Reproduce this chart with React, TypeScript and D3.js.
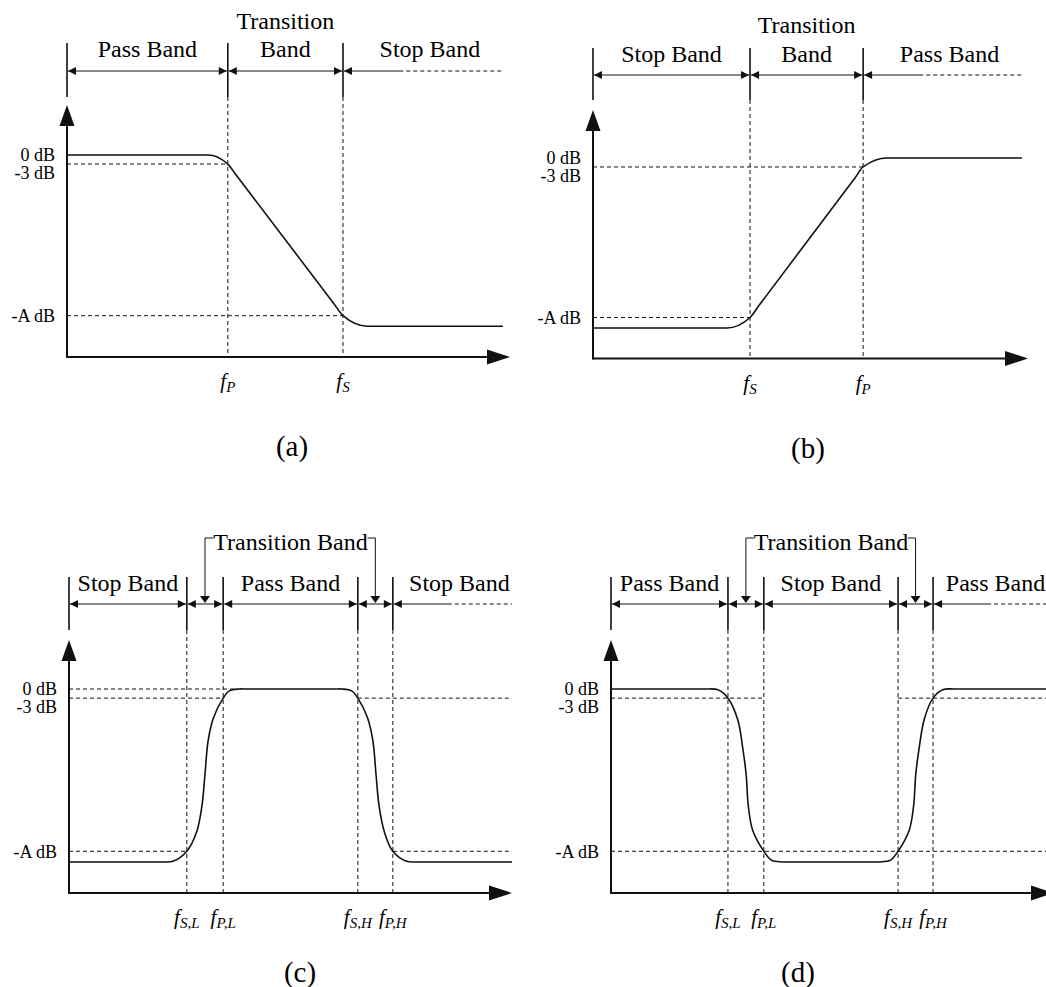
import * as d3 from "d3";
import React, { useRef, useEffect } from "react";

// dB levels shown on every panel
const levelLabels = ["0 dB", "-3 dB", "-A dB"];
const levelValues = [0, -3, -53.3];
const axisBottomDb = -67;

// (a) low-pass
const lowpassEdges = [3.63, 6.23];
const lowpassTicks = [["f", "P"], ["f", "S"]];
const lowpassBands = ["Pass Band", "Band", "Stop Band"];
const lowpassResponse = [
  [0, 0], [3.18, 0], [3.63, -3], [3.81, -6.5], [6.03, -49.4], [6.23, -53.3], [6.78, -56.8], [9.84, -56.8],
];
const lowpassGuides = [[-3, 0, 3.63], [-53.3, 0, 6.23]];

// (b) high-pass
const highpassEdges = [3.61, 6.21];
const highpassTicks = [["f", "S"], ["f", "P"]];
const highpassBands = ["Stop Band", "Band", "Pass Band"];
const highpassResponse = [
  [0, -56.8], [3.08, -56.8], [3.61, -53.3], [3.81, -49.4], [6.03, -6.5], [6.21, -3], [6.76, 0], [9.86, 0],
];
const highpassGuides = [[-3, 0, 6.21], [-53.3, 0, 3.61]];

// (c) band-pass
const bandpassEdges = [2.66, 3.48, 6.52, 7.31];
const bandTicks = [["f", "S,L"], ["f", "P,L"], ["f", "S,H"], ["f", "P,H"]];
const bandpassBands = ["Stop Band", "", "Pass Band", "", "Stop Band"];
const bandpassResponse = [
  [0, -56.8], [1.95, -56.8], [2.1, -56.8], [2.35, -56.6], [2.66, -53.3], [2.88, -47], [3.0, -38.5],
  [3.07, -28], [3.14, -17], [3.26, -9.5], [3.48, -3], [3.62, -0.6], [3.85, 0], [4.0, 0], [6.0, 0],
  [6.15, 0], [6.38, -0.6], [6.52, -3], [6.74, -9.5], [6.86, -17], [6.93, -28], [7.0, -38.5], [7.12, -47],
  [7.31, -53.3], [7.62, -56.6], [7.87, -56.8], [8.02, -56.8], [10, -56.8],
];
const bandpassGuides = [[0, 0, 3.75], [-3, 0, 3.48], [-3, 6.52, 10], [-53.3, 0, 2.66], [-53.3, 7.31, 10]];

// (d) band-stop
const bandstopEdges = [2.64, 3.45, 6.48, 7.27];
const bandstopBands = ["Pass Band", "", "Stop Band", "", "Pass Band"];
const bandstopResponse = [
  [0, 0], [2.0, 0], [2.15, 0], [2.4, -0.2], [2.64, -3], [2.86, -10], [2.97, -19], [3.05, -28],
  [3.1, -38.5], [3.2, -46.5], [3.45, -53.3], [3.62, -56.2], [3.86, -56.8], [4.0, -56.8], [5.93, -56.8],
  [6.07, -56.8], [6.31, -56.2], [6.48, -53.3], [6.73, -46.5], [6.83, -38.5], [6.88, -28], [6.96, -19],
  [7.07, -10], [7.27, -3], [7.5, -0.2], [7.75, 0], [7.9, 0], [10, 0],
];
const bandstopGuides = [[-3, 0, 3.45], [-3, 6.48, 10], [-53.3, 0, 10]];

const captions = ["(a)", "(b)", "(c)", "(d)"];

const serif = "'Liberation Serif', 'Times New Roman', serif";
const ink = "#111";

const panels = [
  {
    ox: 67, oy: 357, w: 443, y0: 155, top: 105, bandY: 71, divTop: 43, divBottom: 97, labelY: 57,
    edges: lowpassEdges, ticks: lowpassTicks, bands: lowpassBands, response: lowpassResponse,
    guides: lowpassGuides, solidEnd: 7.5, dashEnd: 9.84, transition: "stack", transY: 29,
    caption: captions[0], capX: 292, capY: 456, lastShift: 7, curve: d3.curveMonotoneX,
  },
  {
    ox: 593, oy: 358.5, w: 435, y0: 158, top: 110, bandY: 75, divTop: 48, divBottom: 100, labelY: 62,
    edges: highpassEdges, ticks: highpassTicks, bands: highpassBands, response: highpassResponse,
    guides: highpassGuides, solidEnd: 7.5, dashEnd: 9.86, transition: "stack", transY: 33,
    caption: captions[1], capX: 808, capY: 458, lastShift: 7, curve: d3.curveMonotoneX,
  },
  {
    ox: 69, oy: 893, w: 443, y0: 689, top: 640, bandY: 604, divTop: 577, divBottom: 630, labelY: 591,
    edges: bandpassEdges, ticks: bandTicks, bands: bandpassBands, response: bandpassResponse,
    guides: bandpassGuides, solidEnd: 8.55, dashEnd: 10, transition: "bracket", transY: 550,
    caption: captions[2], capX: 300, capY: 982, lastShift: 7, curve: d3.curveCatmullRom.alpha(0.5),
  },
  {
    ox: 611, oy: 893, w: 443, y0: 689, top: 640, bandY: 604, divTop: 577, divBottom: 630, labelY: 591,
    edges: bandstopEdges, ticks: bandTicks, bands: bandstopBands, response: bandstopResponse,
    guides: bandstopGuides, solidEnd: 8.49, dashEnd: 10, transition: "bracket", transY: 550,
    caption: captions[3], capX: 798, capY: 982, lastShift: 2, curve: d3.curveCatmullRom.alpha(0.5),
  },
];

const drawPanel = (svg, p) => {
  const x = d3.scaleLinear().domain([0, 10]).range([p.ox, p.ox + p.w]);
  const y = d3.scaleLinear().domain([axisBottomDb, 0]).range([p.oy, p.y0]);
  const g = svg.append("g");

  // dashed guides
  g.selectAll(null)
    .data(p.guides)
    .enter()
    .append("line")
    .attr("x1", (d) => x(d[1]))
    .attr("x2", (d) => x(d[2]))
    .attr("y1", (d) => y(d[0]))
    .attr("y2", (d) => y(d[0]))
    .attr("stroke", ink)
    .attr("stroke-width", 1)
    .attr("stroke-dasharray", "4,3");

  g.selectAll(null)
    .data(p.edges)
    .enter()
    .append("line")
    .attr("x1", (d) => x(d))
    .attr("x2", (d) => x(d))
    .attr("y1", p.divBottom)
    .attr("y2", p.oy)
    .attr("stroke", ink)
    .attr("stroke-width", 1)
    .attr("stroke-dasharray", "4,3");

  // band dividers
  const stops = [0, ...p.edges];
  g.selectAll(null)
    .data(stops)
    .enter()
    .append("line")
    .attr("x1", (d) => x(d))
    .attr("x2", (d) => x(d))
    .attr("y1", p.divTop)
    .attr("y2", p.divBottom)
    .attr("stroke", ink)
    .attr("stroke-width", 1.6);

  const arrow = (tipX, dir) =>
    `M${tipX},${p.bandY}L${tipX + dir * 8},${p.bandY - 4}L${tipX + dir * 8},${p.bandY + 4}Z`;

  for (let i = 0; i < stops.length - 1; i++) {
    const a = x(stops[i]) + 1;
    const b = x(stops[i + 1]) - 1;
    g.append("line").attr("x1", a).attr("x2", b).attr("y1", p.bandY).attr("y2", p.bandY)
      .attr("stroke", ink).attr("stroke-width", 1);
    g.append("path").attr("d", arrow(a, 1)).attr("fill", ink);
    g.append("path").attr("d", arrow(b, -1)).attr("fill", ink);
  }
  const last = x(stops[stops.length - 1]) + 1;
  g.append("line").attr("x1", last).attr("x2", x(p.solidEnd)).attr("y1", p.bandY).attr("y2", p.bandY)
    .attr("stroke", ink).attr("stroke-width", 1);
  g.append("line").attr("x1", x(p.solidEnd)).attr("x2", x(p.dashEnd)).attr("y1", p.bandY).attr("y2", p.bandY)
    .attr("stroke", ink).attr("stroke-width", 1).attr("stroke-dasharray", "4,3");
  g.append("path").attr("d", arrow(last, 1)).attr("fill", ink);

  // band labels
  const bandCentres = stops.map((s, i) =>
    i < stops.length - 1 ? (x(s) + x(stops[i + 1])) / 2 : (x(s) + x(p.dashEnd)) / 2 + p.lastShift
  );
  g.selectAll(null)
    .data(p.bands)
    .enter()
    .append("text")
    .attr("x", (d, i) => bandCentres[i])
    .attr("y", p.labelY)
    .attr("text-anchor", "middle")
    .attr("font-family", serif)
    .attr("font-size", 24)
    .attr("fill", "#000")
    .text((d) => d);

  if (p.transition === "stack") {
    g.append("text")
      .attr("x", bandCentres[1])
      .attr("y", p.transY)
      .attr("text-anchor", "middle")
      .attr("font-family", serif)
      .attr("font-size", 24)
      .text("Transition");
  } else {
    const cx = bandCentres[2];
    g.append("text")
      .attr("x", cx)
      .attr("y", p.transY)
      .attr("text-anchor", "middle")
      .attr("font-family", serif)
      .attr("font-size", 24)
      .text("Transition Band");
    const lx = (x(p.edges[0]) + x(p.edges[1])) / 2;
    const rx = (x(p.edges[2]) + x(p.edges[3])) / 2;
    const by = p.transY - 12;
    g.append("path")
      .attr("d", `M${cx - 77},${by}H${lx}V${p.bandY - 6}M${cx + 77},${by}H${rx}V${p.bandY - 6}`)
      .attr("fill", "none")
      .attr("stroke", ink)
      .attr("stroke-width", 1);
    [lx, rx].forEach((ax) => {
      g.append("path")
        .attr("d", `M${ax - 5},${p.bandY - 8}L${ax + 5},${p.bandY - 8}L${ax},${p.bandY - 1}Z`)
        .attr("fill", ink);
    });
  }

  // axes
  g.append("line").attr("x1", p.ox).attr("x2", p.ox).attr("y1", p.oy + 1).attr("y2", p.top + 18)
    .attr("stroke", ink).attr("stroke-width", 2);
  g.append("path")
    .attr("d", `M${p.ox},${p.top}L${p.ox - 7.5},${p.top + 21}L${p.ox + 7.5},${p.top + 21}Z`)
    .attr("fill", ink);
  const tip = x(10);
  g.append("line").attr("x1", p.ox).attr("x2", tip - 20).attr("y1", p.oy).attr("y2", p.oy)
    .attr("stroke", ink).attr("stroke-width", 2);
  g.append("path")
    .attr("d", `M${tip},${p.oy}L${tip - 23},${p.oy - 7.5}L${tip - 23},${p.oy + 7.5}Z`)
    .attr("fill", ink);

  // response curve
  const line = d3
    .line()
    .x((d) => x(d[0]))
    .y((d) => y(d[1]))
    .curve(p.curve);
  g.append("path")
    .attr("d", line(p.response))
    .attr("fill", "none")
    .attr("stroke", ink)
    .attr("stroke-width", 1.6);

  // level labels
  const levelOffsets = [6, 15, 6.5];
  g.selectAll(null)
    .data(levelLabels)
    .enter()
    .append("text")
    .attr("x", p.ox - 12)
    .attr("y", (d, i) => y(levelValues[i]) + levelOffsets[i])
    .attr("text-anchor", "end")
    .attr("font-family", serif)
    .attr("font-size", 18)
    .text((d) => d);

  // frequency labels
  const ticks = g
    .selectAll(null)
    .data(p.ticks)
    .enter()
    .append("text")
    .attr("x", (d, i) => x(p.edges[i]))
    .attr("y", p.oy + 31)
    .attr("text-anchor", "middle")
    .attr("font-family", serif)
    .attr("font-style", "italic")
    .attr("font-size", 21);
  ticks.append("tspan").text((d) => d[0]);
  ticks.append("tspan").attr("font-size", 15).attr("dy", 4).text((d) => d[1]);

  g.append("text")
    .attr("x", p.capX)
    .attr("y", p.capY)
    .attr("text-anchor", "middle")
    .attr("font-family", serif)
    .attr("font-size", 29)
    .text(p.caption);
};

export default function App() {
  const ref = useRef(null);
  const width = 1046;
  const height = 987;

  useEffect(() => {
    const svg = d3.select(ref.current);
    svg.selectAll("*").remove();
    svg.append("rect").attr("width", width).attr("height", height).attr("fill", "#fff");
    panels.forEach((p) => drawPanel(svg, p));
  }, []);

  return (
    <svg
      ref={ref}
      width={width}
      height={height}
      style={{ position: "absolute", left: 0, top: 0, display: "block" }}
    ></svg>
  );
}
